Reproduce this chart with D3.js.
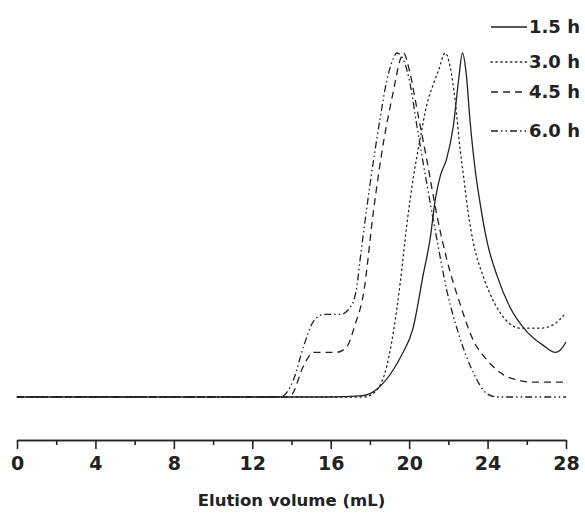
<!DOCTYPE html>
<html>
<head>
<meta charset="utf-8">
<script src="https://d3js.org/d3.v7.min.js"></script>
<style>
  body { margin: 0; background: #fff; }
  svg { display: block; }
  .axis path, .axis line { stroke: #222; stroke-width: 1.6px; }
  .axis text { font-family: "DejaVu Sans", sans-serif; font-weight: bold; font-size: 19px; fill: #222; }
  .curve { fill: none; stroke: #222; stroke-width: 1.3px; }
</style>
</head>
<body>
<script>
// elution volume (mL) and normalised absorbance for each reaction time
var vol15 = [0, 16.0, 17.5, 18.0, 18.4, 19.2, 19.6, 20.2, 20.7, 21.07, 21.35, 21.6, 21.9, 22.26, 22.52, 22.72, 22.91, 23.11, 23.37, 23.6, 23.98, 24.5, 25.15, 26.0, 26.84, 27.45, 27.7, 28.0];
var int15 = [0, 0, 0.003, 0.01, 0.025, 0.08, 0.12, 0.20, 0.35, 0.46, 0.58, 0.645, 0.69, 0.79, 0.92, 1.0, 0.94, 0.80, 0.66, 0.57, 0.45, 0.35, 0.26, 0.19, 0.15, 0.13, 0.136, 0.16];

var vol30 = [0, 17.7, 18.35, 18.86, 19.2, 19.54, 19.88, 20.22, 20.56, 20.9, 21.24, 21.5, 21.84, 22.09, 22.35, 22.6, 22.8, 23.0, 23.27, 23.78, 24.29, 25.0, 25.66, 26.68, 27.35, 27.7, 28.0];
var int30 = [0, 0, 0.02, 0.09, 0.19, 0.33, 0.50, 0.64, 0.75, 0.85, 0.91, 0.95, 1.0, 0.96, 0.86, 0.72, 0.63, 0.54, 0.45, 0.35, 0.28, 0.22, 0.20, 0.20, 0.21, 0.226, 0.245];

var vol45 = [0, 13.8, 14.01, 14.61, 15.12, 16.31, 16.82, 17.24, 17.67, 18.18, 18.69, 19.2, 19.54, 19.71, 20.05, 20.39, 20.9, 21.41, 21.92, 22.6, 23.27, 23.98, 24.8, 25.5, 26.3, 28.0];
var int45 = [0, 0, 0.006, 0.09, 0.13, 0.13, 0.146, 0.21, 0.30, 0.54, 0.74, 0.89, 0.98, 1.0, 0.94, 0.84, 0.69, 0.53, 0.40, 0.27, 0.165, 0.107, 0.065, 0.05, 0.043, 0.043];

var vol60 = [0, 13.42, 14.1, 14.61, 15.12, 15.63, 16.48, 16.99, 17.33, 17.5, 18.01, 18.52, 18.86, 19.2, 19.37, 19.71, 20.05, 20.39, 20.9, 21.41, 21.92, 22.6, 23.28, 23.96, 24.5, 28.0];
var int60 = [0, 0, 0.05, 0.146, 0.22, 0.24, 0.24, 0.26, 0.32, 0.40, 0.62, 0.81, 0.92, 0.985, 1.0, 0.98, 0.91, 0.79, 0.62, 0.46, 0.31, 0.17, 0.07, 0.01, 0, 0];

var seriesNames = ["1.5 h", "3.0 h", "4.5 h", "6.0 h"];
var seriesDash = ["none", "1.3,3.6", "7,5", "7,3,1.5,3,1.5,3"];
var xTicks = [0, 4, 8, 12, 16, 20, 24, 28];
var xMinor = [2, 6, 10, 14, 18, 22, 26];
var xTitle = "Elution volume (mL)";

var w = 585, h = 513;
var margin = {left: 17, right: 19, axisY: 440, base: 397, top: 53};

var svg = d3.select("body").append("svg")
    .attr("width", w)
    .attr("height", h);

var x = d3.scaleLinear().domain([0, 28]).range([margin.left, w - margin.right]);
var y = d3.scaleLinear().domain([0, 1]).range([margin.base, margin.top]);

var line = d3.line()
    .x(function(d) { return x(d[0]); })
    .y(function(d) { return y(d[1]); })
    .curve(d3.curveMonotoneX);

var allSeries = [
    d3.zip(vol15, int15),
    d3.zip(vol30, int30),
    d3.zip(vol45, int45),
    d3.zip(vol60, int60)
];

svg.selectAll("path.curve")
    .data(allSeries)
    .enter()
    .append("path")
    .attr("class", "curve")
    .attr("stroke-dasharray", function(d, i) { return seriesDash[i]; })
    .attr("stroke-linecap", function(d, i) { return i == 1 ? "round" : "butt"; })
    .attr("d", line);

// minor ticks first, then the labelled axis on top
svg.append("g")
    .attr("class", "axis")
    .attr("transform", "translate(0," + margin.axisY + ")")
    .call(d3.axisBottom(x).tickValues(xMinor).tickSize(5).tickSizeOuter(0).tickFormat(""));

svg.append("g")
    .attr("class", "axis")
    .attr("transform", "translate(0," + margin.axisY + ")")
    .call(d3.axisBottom(x).tickValues(xTicks).tickSize(9).tickSizeOuter(0).tickPadding(8).tickFormat(d3.format("d")));

svg.append("text")
    .attr("x", x(14))
    .attr("y", 506)
    .attr("text-anchor", "middle")
    .attr("font-family", "DejaVu Sans, sans-serif")
    .attr("font-weight", "bold")
    .attr("font-size", "16.5px")
    .attr("fill", "#222")
    .text(xTitle);

// legend
var legendY = [27, 62, 92, 131];
var legend = svg.selectAll("g.legend")
    .data(seriesNames)
    .enter()
    .append("g")
    .attr("class", "legend")
    .attr("transform", function(d, i) { return "translate(491," + legendY[i] + ")"; });

legend.append("line")
    .attr("x1", 0)
    .attr("x2", 36)
    .attr("stroke", "#222")
    .attr("stroke-width", 1.3)
    .attr("stroke-dasharray", function(d, i) { return seriesDash[i]; })
    .attr("stroke-linecap", function(d, i) { return i == 1 ? "round" : "butt"; });

legend.append("text")
    .attr("x", 38)
    .attr("dy", "0.36em")
    .attr("font-family", "DejaVu Sans, sans-serif")
    .attr("font-weight", "bold")
    .attr("font-size", "18px")
    .attr("fill", "#222")
    .text(function(d) { return d; });
</script>
</body>
</html>
